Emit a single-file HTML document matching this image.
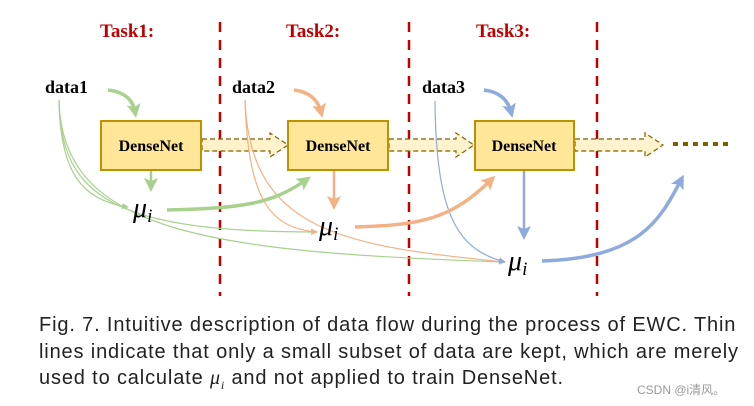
<!DOCTYPE html>
<html><head><meta charset="utf-8"><style>
body{margin:0;background:#fff;width:754px;height:406px;overflow:hidden}
.cap{position:absolute;left:39px;top:312px;font:20px "Liberation Sans",sans-serif;letter-spacing:0.85px;color:#222;line-height:26.5px;white-space:nowrap}
</style></head><body>
<svg width="754" height="406" style="position:absolute;left:0;top:0" font-family="Liberation Serif">
<defs>
<marker id="g" markerWidth="8" markerHeight="8" refX="6" refY="4" orient="auto" markerUnits="userSpaceOnUse"><path d="M0,1L7,4L0,7z" fill="#a9d18e"/></marker>
<marker id="o" markerWidth="8" markerHeight="8" refX="6" refY="4" orient="auto" markerUnits="userSpaceOnUse"><path d="M0,1L7,4L0,7z" fill="#f4b183"/></marker>
<marker id="b" markerWidth="8" markerHeight="8" refX="6" refY="4" orient="auto" markerUnits="userSpaceOnUse"><path d="M0,1L7,4L0,7z" fill="#8faadc"/></marker>
<marker id="gt" markerWidth="16" markerHeight="16" refX="8" refY="8" orient="auto" markerUnits="userSpaceOnUse"><path d="M0,1L14,8L0,15L3,8z" fill="#a9d18e"/></marker>
<marker id="ot" markerWidth="16" markerHeight="16" refX="8" refY="8" orient="auto" markerUnits="userSpaceOnUse"><path d="M0,1L14,8L0,15L3,8z" fill="#f4b183"/></marker>
<marker id="bt" markerWidth="16" markerHeight="16" refX="8" refY="8" orient="auto" markerUnits="userSpaceOnUse"><path d="M0,1L14,8L0,15L3,8z" fill="#8faadc"/></marker>
</defs>
<g fill="#c00000" font-weight="bold" font-size="19">
<text x="100" y="37">Task1:</text><text x="286" y="37">Task2:</text><text x="476" y="37">Task3:</text></g>
<g stroke="#c00000" stroke-width="2.5" stroke-dasharray="10,8">
<line x1="220" y1="22" x2="220" y2="296"/><line x1="409" y1="22" x2="409" y2="296"/><line x1="597" y1="22" x2="597" y2="296"/></g>
<g fill="#fff2cc" stroke="#806000" stroke-width="1.2" stroke-dasharray="5,3">
<path d="M202,139H270V133L288,145L270,157V151H202z"/>
<path d="M389,139H456V133L474,145L456,157V151H389z"/>
<path d="M575,139H645V133L663,145L645,157V151H575z"/></g>
<line x1="673" y1="144" x2="732" y2="144" stroke="#7f6000" stroke-width="4" stroke-dasharray="5,5"/>
<g fill="none" stroke-width="1.2">
<path d="M59,100C60,170 80,200 128,207" stroke="#a9d18e" marker-end="url(#g)"/>
<path d="M59,100C60,200 120,232 317,232" stroke="#a9d18e" marker-end="url(#g)"/>
<path d="M59,100C62,230 200,252 505,262" stroke="#a9d18e" marker-end="url(#g)"/>
<path d="M245,100C248,200 270,228 317,232" stroke="#f4b183" marker-end="url(#o)"/>
<path d="M245,100C250,230 340,246 505,262" stroke="#f4b183" marker-end="url(#o)"/>
<path d="M435,101C436,220 460,250 505,262" stroke="#8faadc" marker-end="url(#b)"/>
</g>
<g fill="none" stroke-width="3.5">
<path d="M108,90C125,92 133,100 135,112" stroke="#a9d18e" marker-end="url(#gt)"/>
<path d="M294,90C310,92 318,100 321,112" stroke="#f4b183" marker-end="url(#ot)"/>
<path d="M484,90C500,92 508,100 511,112" stroke="#8faadc" marker-end="url(#bt)"/>
<path d="M151,171V186" stroke="#a9d18e" stroke-width="2.5" marker-end="url(#gt)"/>
<path d="M334,171V204" stroke="#f4b183" stroke-width="2.5" marker-end="url(#ot)"/>
<path d="M524,171V234" stroke="#8faadc" stroke-width="2.5" marker-end="url(#bt)"/>
<path d="M167,210C240,208 270,205 306,180" stroke="#a9d18e" marker-end="url(#gt)"/>
<path d="M355,227C420,225 450,220 491,180" stroke="#f4b183" marker-end="url(#ot)"/>
<path d="M542,261C640,258 660,220 681,180" stroke="#8faadc" marker-end="url(#bt)"/>
</g>
<g fill="#ffe699" stroke="#bf9000" stroke-width="2">
<rect x="101" y="121" width="100" height="49"/><rect x="288" y="121" width="100" height="49"/><rect x="475" y="121" width="99" height="49"/></g>
<g font-weight="bold" font-size="16" text-anchor="middle">
<text x="151" y="151">DenseNet</text><text x="338" y="151">DenseNet</text><text x="524" y="151">DenseNet</text></g>
<g font-weight="bold" font-size="18">
<text x="45" y="93">data1</text><text x="232" y="93">data2</text><text x="422" y="93">data3</text></g>
<g font-style="italic" font-size="28">
<text x="133" y="217">μ<tspan font-size="19" dy="5">i</tspan></text>
<text x="319" y="235">μ<tspan font-size="19" dy="5">i</tspan></text>
<text x="508" y="270">μ<tspan font-size="19" dy="5">i</tspan></text></g>
<text x="637" y="394" font-family="Liberation Sans,Noto Sans CJK SC,sans-serif" font-size="12" fill="#999">CSDN @i清风。</text>
</svg>
<div class="cap">Fig. 7. Intuitive description of data flow during the process of EWC. Thin<br>lines indicate that only a small subset of data are kept, which are merely<br>used to calculate <i style="font-family:'Liberation Serif',serif">μ<sub style="font-size:12px">i</sub></i> and not applied to train DenseNet.</div>
</body></html>
